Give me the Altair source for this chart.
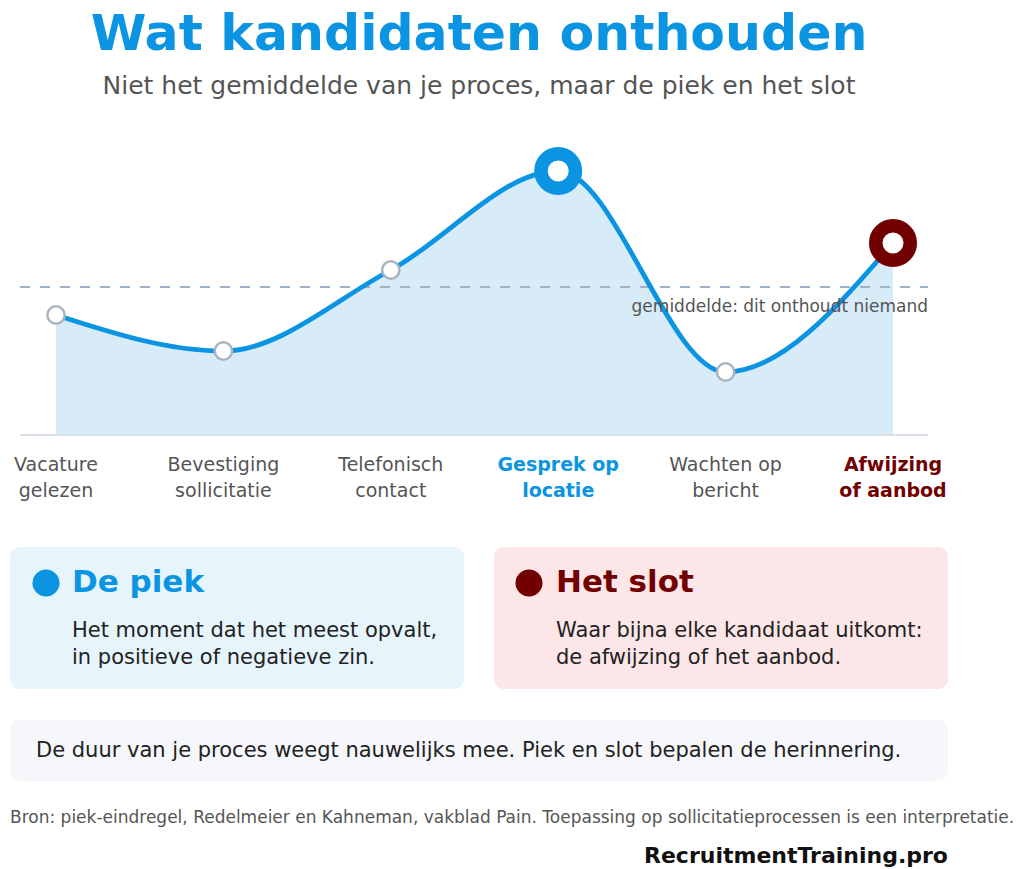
import pandas as pd
import altair as alt

# ---------------------------------------------------------------
# Data
# ---------------------------------------------------------------
stages = [
    "Vacature gelezen",
    "Bevestiging sollicitatie",
    "Telefonisch contact",
    "Gesprek op locatie",
    "Wachten op bericht",
    "Afwijzing of aanbod",
]
label_top = ["Vacature", "Bevestiging", "Telefonisch", "Gesprek op", "Wachten op", "Afwijzing"]
label_bottom = ["gelezen", "sollicitatie", "contact", "locatie", "bericht", "of aanbod"]
experience = [40, 28, 55, 88, 21, 64]
roles = ["normal", "normal", "normal", "peak", "normal", "end"]

BLUE = "#0a94e2"
MAROON = "#730000"
GREY_TEXT = "#555555"
DARK_TEXT = "#222222"
FONT = "DejaVu Sans"

role_colors = {"normal": GREY_TEXT, "peak": BLUE, "end": MAROON}

df = pd.DataFrame({
    "stage": stages,
    "step": list(range(len(stages))),
    "value": experience,
    "role": roles,
    "top": label_top,
    "bottom": label_bottom,
    "color": [role_colors[r] for r in roles],
})


# page coords minus the 8px body margin
def px(v):
    return v - 8


X_SCALE = alt.Scale(domain=[0, len(stages) - 1], range=[px(56), px(893)], nice=False, zero=False)
Y_SCALE = alt.Scale(domain=[0, 100], range=[px(435), px(135)], nice=False)

x_enc = alt.X("step:Q", axis=None, scale=X_SCALE)
y_enc = alt.Y("value:Q", axis=None, scale=Y_SCALE)

base = alt.Chart(df)
single = alt.Chart(pd.DataFrame({"k": [0]}))  # one row for annotations

# ---------------------------------------------------------------
# Curve
# ---------------------------------------------------------------
area = base.mark_area(interpolate="monotone", color="#d7ebf9", opacity=1).encode(x=x_enc, y=y_enc)

baseline = single.mark_rule(color="#d8dfe7", strokeWidth=2).encode(
    x=alt.value(px(20)), x2=alt.value(px(928)), y=alt.value(px(435))
)

avg_rule = base.mark_rule(color="#9fb2c6", strokeWidth=2, strokeDash=[10, 10]).encode(
    y=alt.Y("mean(value):Q", axis=None, scale=Y_SCALE),
    x=alt.value(px(20)), x2=alt.value(px(928)),
)
avg_text = base.mark_text(
    text="gemiddelde: dit onthoudt niemand", align="right", baseline="middle",
    dy=20, fontSize=17, fill=GREY_TEXT, font=FONT,
).encode(
    y=alt.Y("mean(value):Q", axis=None, scale=Y_SCALE),
    x=alt.value(px(928)),
)

line = base.mark_line(interpolate="monotone", color=BLUE, strokeWidth=4.8).encode(x=x_enc, y=y_enc)

# symbol size is the area of the bounding square: radius = sqrt(size) / 2
points = base.transform_filter(alt.datum.role == "normal").mark_point(
    shape="circle", filled=False, fill="white", fillOpacity=1,
    stroke="#a8b5c1", strokeWidth=2.5, size=300, opacity=1,
).encode(x=x_enc, y=y_enc)

rings = base.transform_filter(alt.datum.role != "normal").mark_point(
    shape="circle", filled=False, fill="white", fillOpacity=1,
    strokeWidth=13.5, size=1190, opacity=1,
).encode(x=x_enc, y=y_enc, stroke=alt.Stroke("color:N", scale=None))

# stage labels
lab_kw = dict(align="center", baseline="middle", fontSize=19, font=FONT)
labels = []
for sel, weight in [(alt.datum.role == "normal", "normal"), (alt.datum.role != "normal", "bold")]:
    for field, ypos in [("top", 465), ("bottom", 491)]:
        labels.append(
            base.transform_filter(sel).mark_text(fontWeight=weight, **lab_kw).encode(
                x=x_enc, y=alt.value(px(ypos)),
                text=f"{field}:N", fill=alt.Fill("color:N", scale=None),
            )
        )


# ---------------------------------------------------------------
# Header and cards
# ---------------------------------------------------------------
def text(s, x, y, size, color, weight="normal", align="left", baseline="alphabetic"):
    return single.mark_text(
        text=s, align=align, baseline=baseline, fontSize=size, fill=color,
        fontWeight=weight, font=FONT,
    ).encode(x=alt.value(px(x)), y=alt.value(px(y)))


def card(x1, y1, x2, y2, fill):
    return single.mark_rect(fill=fill, cornerRadius=10).encode(
        x=alt.value(px(x1)), x2=alt.value(px(x2)), y=alt.value(px(y1)), y2=alt.value(px(y2))
    )


def dot(x, y, color):
    return single.mark_point(shape="circle", filled=True, color=color, size=729, opacity=1).encode(
        x=alt.value(px(x)), y=alt.value(px(y))
    )


title = text("Wat kandidaten onthouden", 479, 50, 50.5, BLUE, "bold", "center")
subtitle = text("Niet het gemiddelde van je proces, maar de piek en het slot", 479, 94, 25, GREY_TEXT, align="center")

cards = [
    card(10, 547, 464, 689, "#e6f4fc"),
    card(494, 547, 948, 689, "#fce6e8"),
    card(10, 720, 948, 781, "#f5f7fa"),
    dot(46, 583, BLUE),
    dot(529, 583, MAROON),
    text("De piek", 72, 583, 31, BLUE, "bold", baseline="middle"),
    text("Het moment dat het meest opvalt,", 72, 637, 21, DARK_TEXT),
    text("in positieve of negatieve zin.", 72, 664, 21, DARK_TEXT),
    text("Het slot", 556, 583, 31, MAROON, "bold", baseline="middle"),
    text("Waar bijna elke kandidaat uitkomt:", 556, 637, 21, DARK_TEXT),
    text("de afwijzing of het aanbod.", 556, 664, 21, DARK_TEXT),
    text("De duur van je proces weegt nauwelijks mee. Piek en slot bepalen de herinnering.",
         36, 757, 21, DARK_TEXT),
    text("Bron: piek-eindregel, Redelmeier en Kahneman, vakblad Pain. "
         "Toepassing op sollicitatieprocessen is een interpretatie.", 10, 823, 17, GREY_TEXT),
    text("RecruitmentTraining.pro", 948, 863, 22, "#111111", "bold", "right"),
]

chart = (
    alt.layer(area, baseline, avg_rule, line, points, rings, avg_text, *labels,
              title, subtitle, *cards)
    .properties(width=1008, height=860, autosize="none", padding=0, background="white")
    .configure_view(stroke=None)
)

chart.save("out.html", embed_options={"renderer": "svg", "actions": False})
